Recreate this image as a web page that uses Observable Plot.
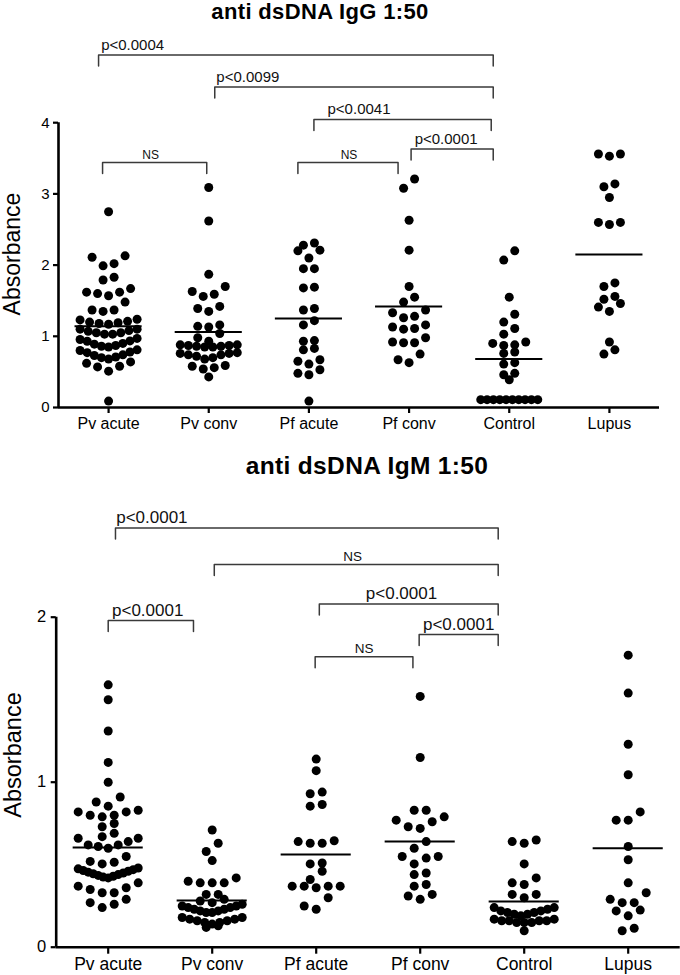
<!DOCTYPE html>
<html>
<head>
<meta charset="utf-8">
<script src="https://cdn.jsdelivr.net/npm/d3@7"></script>
<script src="https://cdn.jsdelivr.net/npm/@observablehq/plot@0.6"></script>
<style>
  html, body { margin: 0; padding: 0; background: #fff; }
  #wrap { position: relative; width: 680px; height: 975px; overflow: hidden; font-family: 'Liberation Sans', Arial, Helvetica, sans-serif; color: #000; }
  .panel { position: absolute; left: 0; }
  .panel svg { display: block; }
  .title { position: absolute; font-weight: bold; line-height: 1.117; letter-spacing: 0.35px; white-space: nowrap; transform: translateX(-50%); }
  .ylab { position: absolute; line-height: 1.117; white-space: nowrap; transform: translate(-50%, -50%) rotate(-90deg); }
</style>
</head>
<body>
<div id="wrap">
  <div id="p1" class="panel" style="top:0px"></div>
  <div id="p2" class="panel" style="top:445px"></div>
  <div class="title" style="left:320px; top:0px; font-size:22px;">anti dsDNA IgG 1:50</div>
  <div class="title" style="left:367px; top:452px; font-size:24.5px;">anti dsDNA IgM 1:50</div>
  <div class="ylab" style="left:12.9px; top:254px; font-size:23px;">Absorbance</div>
  <div class="ylab" style="left:13.4px; top:755px; font-size:23.5px;">Absorbance</div>
</div>
<script>
const FONT = "'Liberation Sans', Arial, Helvetica, sans-serif";
const categories = ["Pv acute", "Pv conv", "Pf acute", "Pf conv", "Control", "Lupus"];

// ---------- anti dsDNA IgG 1:50 (values grouped as the dot rows appear) ----------
const iggPvAcute = [
  [0.09],
  [0.51, 0.57, 0.58, 0.62, 0.64],
  [0.68, 0.70, 0.71, 0.73, 0.74, 0.77, 0.78, 0.80, 0.81],
  [0.85, 0.86, 0.87, 0.89, 0.90, 0.93, 0.935, 0.955, 0.97],
  [1.03, 1.03, 1.05, 1.05, 1.07, 1.08, 1.10, 1.10],
  [1.17, 1.18, 1.19, 1.20, 1.21, 1.23, 1.24],
  [1.35, 1.37, 1.37, 1.48],
  [1.57, 1.60, 1.62, 1.62, 1.67],
  [1.79, 1.83],
  [1.99, 2.02, 2.11, 2.13],
  [2.75]
];
const iggPvConv = [
  [0.43],
  [0.54, 0.56, 0.58, 0.59],
  [0.68, 0.70, 0.72, 0.74, 0.74, 0.76, 0.76, 0.77],
  [0.85, 0.85, 0.86, 0.86, 0.87, 0.87, 0.88, 0.88],
  [0.93, 0.98, 1.04],
  [1.13, 1.14, 1.16],
  [1.35, 1.39, 1.42],
  [1.56, 1.59, 1.63, 1.70],
  [1.87], [2.62], [3.09]
];
const iggPfAcute = [
  [0.09], [0.46, 0.48, 0.53], [0.61, 0.65, 0.67], [0.81, 0.83], [0.93, 0.94],
  [1.16, 1.22], [1.37, 1.39], [1.68, 1.69], [1.95, 1.95], [2.10, 2.20, 2.21], [2.28, 2.31]
];
const iggPfConv = [
  [0.63, 0.67, 0.75], [0.91, 0.91, 0.92, 0.98], [1.10, 1.11, 1.13, 1.16], [1.26, 1.28, 1.33, 1.37],
  [1.48, 1.55], [1.70], [2.21], [2.63], [3.08, 3.21]
];
const iggControl = [
  [0.11, 0.11, 0.11, 0.11, 0.11, 0.11, 0.11, 0.11, 0.11, 0.11],
  [0.39], [0.46, 0.48], [0.61, 0.63], [0.76, 0.78], [0.87, 0.88, 0.90, 0.92],
  [1.03, 1.11], [1.20, 1.31], [1.55], [2.07, 2.20]
];
const iggLupus = [
  [0.75, 0.81], [0.92], [1.35, 1.41, 1.46], [1.52, 1.56], [1.70, 1.75],
  [2.57, 2.60, 2.60], [2.95], [3.10, 3.14], [3.53, 3.56, 3.56]
];
const iggCenter = [1.14, 1.06, 1.25, 1.42, 0.68, 2.15];
const iggYTicks = [0, 1, 2, 3, 4];
const iggBracketFrom  = [-0.10, 1.06, 2.05, 3.02, -0.06, 1.89];
const iggBracketTo    = [3.84, 3.84, 3.82, 3.84, 0.98, 2.89];
const iggBracketLevel = [4.95, 4.50, 4.045, 3.63, 3.44, 3.44];
const iggBracketText  = ["p<0.0004", "p<0.0099", "p<0.0041", "p<0.0001", "NS", "NS"];
const iggBracketTextX = [0.24, 1.39, 2.50, 3.37, 0.42, 2.40];

// ---------- anti dsDNA IgM 1:50 ----------
const igmPvAcute = [
  [0.24, 0.26, 0.27, 0.29],
  [0.33, 0.33, 0.35, 0.36, 0.37, 0.39],
  [0.42, 0.425, 0.43, 0.435, 0.44, 0.445, 0.45, 0.455, 0.46, 0.465, 0.47, 0.475, 0.48],
  [0.505, 0.515, 0.52, 0.55],
  [0.60, 0.61, 0.62, 0.62, 0.64, 0.66, 0.66],
  [0.67, 0.69],
  [0.73, 0.75],
  [0.79, 0.80, 0.80, 0.82, 0.82, 0.83],
  [0.855, 0.88, 0.91],
  [1.00], [1.12], [1.31], [1.50], [1.59]
];
const igmPvConv = [
  [0.12, 0.13],
  [0.14, 0.15, 0.15, 0.16, 0.16, 0.17, 0.17, 0.18, 0.18],
  [0.21, 0.21, 0.22, 0.22, 0.23, 0.23, 0.24, 0.24, 0.25, 0.25, 0.26],
  [0.27, 0.28, 0.29],
  [0.32, 0.32],
  [0.39, 0.39, 0.39, 0.40, 0.42],
  [0.525], [0.58, 0.63], [0.71]
];
const igmPfAcute = [
  [0.23, 0.25, 0.30], [0.36, 0.37, 0.37, 0.37, 0.37], [0.41, 0.46], [0.505, 0.51],
  [0.63, 0.63, 0.64, 0.645], [0.855, 0.865], [0.93, 0.94], [1.07], [1.14]
];
const igmPfConv = [
  [0.29, 0.31, 0.32], [0.37, 0.38], [0.44, 0.45], [0.505, 0.54, 0.55, 0.55], [0.60, 0.64],
  [0.72, 0.73, 0.76, 0.77, 0.79], [0.83, 0.83], [1.15], [1.52]
];
const igmControl = [
  [0.10],
  [0.15, 0.15, 0.15, 0.16, 0.16, 0.16, 0.16, 0.17, 0.17],
  [0.19, 0.20, 0.20, 0.21, 0.21, 0.22, 0.22, 0.23, 0.24, 0.24],
  [0.30, 0.32, 0.32],
  [0.38, 0.39, 0.42],
  [0.505],
  [0.63, 0.64, 0.65]
];
const igmLupus = [
  [0.10, 0.115], [0.19, 0.22, 0.225], [0.27, 0.27, 0.29, 0.33], [0.39], [0.53], [0.61],
  [0.77, 0.77, 0.82], [1.045], [1.23], [1.54], [1.77]
];
const igmCenter = [0.605, 0.283, 0.562, 0.64, 0.277, 0.60];
const igmYTicks = [0, 1, 2];
const igmBracketFrom  = [0.07, 1.02, 2.03, 2.99, 1.99, 0.00];
const igmBracketTo    = [3.75, 3.75, 3.75, 3.75, 2.93, 0.82];
const igmBracketLevel = [2.54, 2.32, 2.08, 1.895, 1.76, 1.98];
const igmBracketText  = ["p<0.0001", "NS", "p<0.0001", "p<0.0001", "NS", "p<0.0001"];
const igmBracketTextX = [0.42, 2.35, 2.82, 3.37, 2.46, 0.38];

// ---------- helpers ----------
// place each row of dots side by side (center-out), like a scatter dot plot
function swarm(groups, stepPx, spacingPx, maxSpanPx) {
  const out = [];
  groups.forEach((rows, gi) => {
    rows.forEach(row => {
      const vals = row.slice().sort((a, b) => a - b);
      const n = vals.length;
      const s = n > 1 ? Math.min(spacingPx, maxSpanPx / (n - 1)) : 0;
      vals.forEach((v, k) => {
        let slot;
        if (n % 2) slot = k === 0 ? 0 : (k % 2 ? -1 : 1) * Math.ceil(k / 2);
        else slot = (k % 2 ? 1 : -1) * (Math.floor(k / 2) + 0.5);
        out.push({group: categories[gi], x: gi + slot * s / stepPx, value: v});
      });
    });
  });
  return out;
}
function bracketPath(from, to, level, drop) {
  const pts = [];
  from.forEach((f, i) => {
    pts.push({id: i, x: f, y: level[i] - drop});
    pts.push({id: i, x: f, y: level[i]});
    pts.push({id: i, x: to[i], y: level[i]});
    pts.push({id: i, x: to[i], y: level[i] - drop});
  });
  return pts;
}
function bracketLabels(text, tx, level) {
  return text.map((t, i) => ({text: t, x: tx[i], y: level[i], ns: t === "NS"}));
}

function panel(cfg) {
  const step = (cfg.width - cfg.marginLeft - cfg.marginRight) / 6;
  const pxPerUnit = (cfg.height - cfg.marginTop - cfg.marginBottom) / (cfg.yMax);
  const pts = swarm(cfg.groups, step, cfg.spacing, cfg.maxSpan);
  const centers = cfg.center.map((v, i) => ({value: v, x1: i - cfg.half, x2: i + cfg.half}));
  const br = bracketPath(cfg.from, cfg.to, cfg.level, 11 / pxPerUnit);
  const labels = bracketLabels(cfg.text, cfg.textX, cfg.level);
  const yTop = cfg.yTicks[cfg.yTicks.length - 1];
  return Plot.plot({
    width: cfg.width, height: cfg.height,
    marginLeft: cfg.marginLeft, marginRight: cfg.marginRight,
    marginTop: cfg.marginTop, marginBottom: cfg.marginBottom,
    x: {type: "linear", domain: [-0.5, 5.5]},
    y: {type: "linear", domain: [0, cfg.yMax]},
    style: {fontFamily: FONT, fontSize: cfg.xFont + "px", color: "#000", background: "transparent", overflow: "visible"},
    marks: [
      Plot.axisX({ticks: d3.range(categories.length), tickFormat: i => categories[i], tickSize: cfg.xTickSize, tickPadding: cfg.xTickPad, strokeWidth: 2.2, label: null, fontSize: cfg.xFont}),
      Plot.axisY({ticks: cfg.yTicks, tickFormat: d3.format("d"), tickSize: 5, tickPadding: cfg.yTickPad, strokeWidth: 2.2, label: null, fontSize: cfg.yFont}),
      Plot.ruleY([0], {stroke: "#000", strokeWidth: 2.6}),
      Plot.ruleX([-0.5], {y1: () => 0, y2: () => yTop, stroke: "#000", strokeWidth: 2.6}),
      Plot.line(br, {x: "x", y: "y", z: "id", stroke: "#3a3a3a", strokeWidth: 1.5, curve: "linear"}),
      Plot.text(labels.filter(d => !d.ns), {x: "x", y: "y", text: "text", lineAnchor: "bottom", dy: -cfg.pGap, fontSize: cfg.pFont, fill: "#111"}),
      Plot.text(labels.filter(d => d.ns), {x: "x", y: "y", text: "text", lineAnchor: "bottom", dy: -cfg.nsGap, fontSize: cfg.nsFont, fill: "#111"}),
      Plot.dot(pts, {x: "x", y: "value", r: cfg.r, fill: "#000", stroke: null}),
      Plot.ruleY(centers, {y: "value", x1: "x1", x2: "x2", stroke: "#000", strokeWidth: 2})
    ]
  });
}

const p1 = panel({
  width: 680, height: 445, marginLeft: 58, marginRight: 21, marginTop: 51, marginBottom: 38,
  yMax: 5, yTicks: iggYTicks,
  groups: [iggPvAcute, iggPvConv, iggPfAcute, iggPfConv, iggControl, iggLupus],
  center: iggCenter, half: 0.335,
  from: iggBracketFrom, to: iggBracketTo, level: iggBracketLevel, text: iggBracketText, textX: iggBracketTextX,
  spacing: 11, maxSpan: 57, r: 4.5,
  xFont: 16, yFont: 15, pFont: 15, nsFont: 12, pGap: 5, nsGap: 3.5,
  xTickSize: 6, xTickPad: 4, yTickPad: 4
});
document.getElementById("p1").appendChild(p1);

const p2 = panel({
  width: 680, height: 530, marginLeft: 55.7, marginRight: 0.3, marginTop: 72.7, marginBottom: 28.3,
  yMax: 2.6, yTicks: igmYTicks,
  groups: [igmPvAcute, igmPvConv, igmPfAcute, igmPfConv, igmControl, igmLupus],
  center: igmCenter, half: 0.337,
  from: igmBracketFrom, to: igmBracketTo, level: igmBracketLevel, text: igmBracketText, textX: igmBracketTextX,
  spacing: 12, maxSpan: 60, r: 4.5,
  xFont: 17.5, yFont: 16.5, pFont: 17, nsFont: 13.5, pGap: 5, nsGap: 3.5,
  xTickSize: 7, xTickPad: 3, yTickPad: 5
});
document.getElementById("p2").appendChild(p2);
</script>
</body>
</html>
